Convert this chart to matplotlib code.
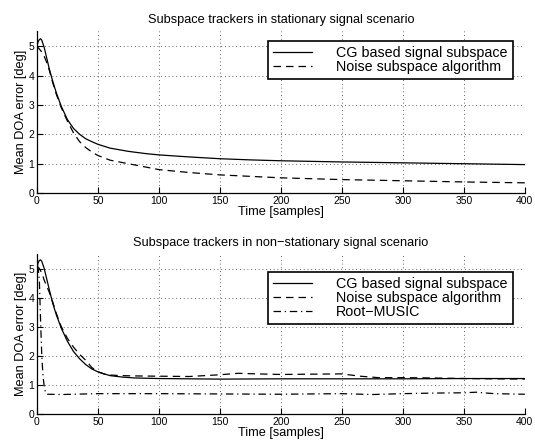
import matplotlib
matplotlib.use("Agg")
import matplotlib.pyplot as plt

plt.rcParams['font.family'] = ['Liberation Sans', 'DejaVu Sans']

# ---- data: stationary scenario ----
t1 = [0, 1, 2, 3, 4, 6, 8, 10, 13, 16, 20, 25, 30, 35, 40, 45, 50, 60, 75, 90,
      100, 125, 150, 175, 200, 250, 300, 350, 400]
cg1 = [5.0, 5.15, 5.22, 5.25, 5.2, 4.95, 4.6, 4.25, 3.8, 3.4, 2.95, 2.5, 2.2, 2.0, 1.85,
       1.75, 1.66, 1.53, 1.42, 1.34, 1.3, 1.23, 1.17, 1.13, 1.1, 1.06, 1.03, 1.0, 0.97]
t1n = [0, 1, 2, 3, 4, 6, 8, 10, 13, 16, 20, 25, 30, 35, 40, 45, 50, 60, 75, 90,
       100, 125, 150, 175, 200, 250, 300, 350, 400]
ns1 = [5.0, 4.95, 4.9, 4.85, 4.8, 4.65, 4.45, 4.2, 3.75, 3.35, 2.9, 2.45, 2.05, 1.75, 1.55,
       1.4, 1.28, 1.12, 1.0, 0.88, 0.8, 0.7, 0.62, 0.57, 0.52, 0.46, 0.42, 0.38, 0.35]

# ---- data: non-stationary scenario ----
t2 = [0, 1, 2, 3, 4, 6, 8, 10, 13, 16, 20, 25, 30, 35, 40, 45, 50, 55, 60, 70, 80,
      100, 150, 200, 250, 300, 350, 400]
cg2 = [5.0, 5.2, 5.28, 5.3, 5.25, 5.0, 4.65, 4.3, 3.8, 3.4, 2.95, 2.5, 2.15, 1.9, 1.7,
       1.55, 1.45, 1.38, 1.32, 1.27, 1.24, 1.22, 1.2, 1.21, 1.21, 1.21, 1.22, 1.22]
t2n = [0, 2, 4, 6, 8, 10, 13, 16, 20, 25, 30, 35, 40, 45, 50, 55, 60, 70, 80, 100, 125,
       150, 165, 180, 200, 225, 250, 265, 280, 300, 325, 350, 375, 400]
ns2 = [5.1, 5.0, 4.85, 4.6, 4.4, 4.2, 3.85, 3.45, 3.0, 2.6, 2.3, 2.05, 1.85, 1.6, 1.45,
       1.38, 1.34, 1.32, 1.31, 1.3, 1.29, 1.35, 1.4, 1.38, 1.36, 1.37, 1.38, 1.3, 1.25,
       1.25, 1.24, 1.22, 1.21, 1.2]
t2r = [0, 1, 2, 3, 4, 5, 6, 7, 8, 10, 20, 50, 100, 150, 200, 250, 275, 300, 325, 350,
       360, 375, 400]
rm2 = [4.9, 5.0, 4.6, 3.2, 2.0, 1.3, 0.95, 0.75, 0.68, 0.68, 0.67, 0.7, 0.7, 0.69, 0.68,
       0.7, 0.67, 0.7, 0.72, 0.73, 0.75, 0.7, 0.68]

xticks = [0, 50, 100, 150, 200, 250, 300, 350, 400]
yticks = [0, 1, 2, 3, 4, 5]

fig = plt.figure(figsize=(5.35, 4.46), dpi=100)
ax1 = fig.add_axes([0.069, 0.567, 0.912, 0.3626])
ax2 = fig.add_axes([0.069, 0.0717, 0.912, 0.3587])

def style(ax):
    ax.set_xlim(0, 400)
    ax.set_ylim(0, 5.5)
    ax.set_xticks(xticks)
    ax.set_yticks(yticks)
    ax.grid(True, linestyle=(0, (1, 3.5)), color='#333333', linewidth=0.6)
    ax.spines['top'].set_visible(False)
    ax.spines['right'].set_visible(False)
    ax.spines['left'].set_linewidth(0.9)
    ax.spines['bottom'].set_linewidth(0.9)
    ax.tick_params(direction='in', length=4, labelsize=7.5, pad=2, width=0.8)
    ax.set_xlabel('Time [samples]', fontsize=9.2, labelpad=0)
    ax.set_ylabel('Mean DOA error [deg]', fontsize=9.2, labelpad=1)

lw = 0.9
ax1.plot(t1, cg1, color='black', linestyle='-', linewidth=lw, label='CG based signal subspace')
ax1.plot(t1n, ns1, color='black', linestyle=(0, (6, 4)), linewidth=lw, label='Noise subspace algorithm')
style(ax1)
ax1.set_title('Subspace trackers in stationary signal scenario', fontsize=9.2, pad=6)

ax2.plot(t2, cg2, color='black', linestyle='-', linewidth=lw, label='CG based signal subspace')
ax2.plot(t2n, ns2, color='black', linestyle=(0, (6, 4)), linewidth=lw, label='Noise subspace algorithm')
ax2.plot(t2r, rm2, color='black', linestyle=(0, (6, 3, 1, 3)), linewidth=lw, label='Root\u2212MUSIC')
style(ax2)
ax2.set_title('Subspace trackers in non\u2212stationary signal scenario', fontsize=9.2, pad=6)

for ax, top in ((ax1, 0.94), (ax2, 0.8875)):
    leg = ax.legend(loc='upper right', bbox_to_anchor=(0.975, top), borderaxespad=0,
                    fontsize=10.3, frameon=True, fancybox=False, handlelength=2.7,
                    handletextpad=1.7, labelspacing=0.0, borderpad=0.35)
    leg.get_frame().set_edgecolor('black')
    leg.get_frame().set_linewidth(1.2)
    leg.get_frame().set_alpha(1)

fig.savefig('out.png', dpi=100)
